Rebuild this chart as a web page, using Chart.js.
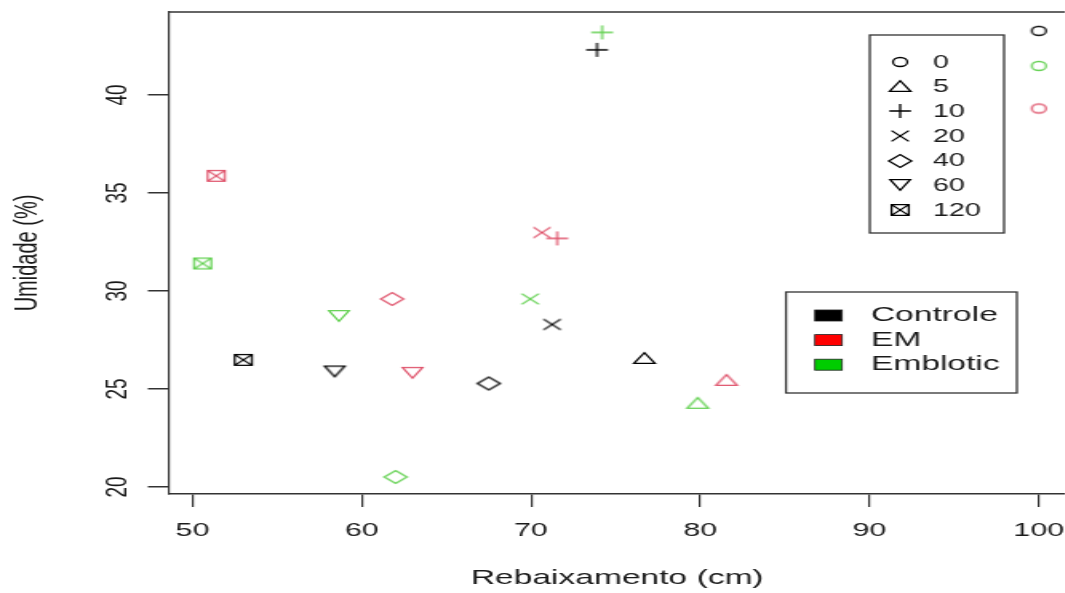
<!DOCTYPE html>
<html>
<head>
<meta charset="utf-8">
<script src="https://cdn.jsdelivr.net/npm/chart.js@4/dist/chart.umd.min.js"></script>
<style>
html,body{margin:0;padding:0;background:#fff;overflow:hidden;width:1065px;height:593px;}
#c{display:block;}
</style>
</head>
<body>
<!-- R-style plot drawn on a narrower bitmap and stretched horizontally, like the reference;
     the plot box runs past the right edge of the window, as in the reference -->
<canvas id="c" width="673" height="593" style="width:1076px;height:593px;"></canvas>
<script>
// ---- data ----
const doses = ['0', '5', '10', '20', '40', '60', '120'];
const shapes = ['circle', 'triangle', 'plus', 'cross', 'diamond', 'down', 'box'];
const groups = ['Controle', 'EM', 'Emblotic'];
const controleX = [100, 76.7, 73.9, 71.25, 67.5, 58.4, 53.0];
const controleY = [43.27, 26.58, 42.30, 28.29, 25.28, 25.89, 26.48];
const emX = [100, 81.55, 71.55, 70.65, 61.8, 63.0, 51.4];
const emY = [39.31, 25.46, 32.68, 32.98, 29.59, 25.82, 35.87];
const emblioticX = [100, 79.85, 74.2, 69.95, 62.0, 58.65, 50.6];
const emblioticY = [41.48, 24.29, 43.19, 29.59, 20.51, 28.72, 31.40];
const xTickStep = 10;
const yTickStep = 5;

// ---- styles ----
const pointColors = ['#000000', '#DF536B', '#61D04F'];
const legendFill = ['#000000', '#FF0000', '#00CD00'];
const FONT = '"Liberation Sans", Arial, Helvetica, sans-serif';
const TXT = '#1a1a1a';

function makeMarker(shape, color) {
  const W = 20, H = 20, cx = W / 2, cy = H / 2;
  const cv = document.createElement('canvas');
  cv.width = W; cv.height = H;
  const g = cv.getContext('2d');
  g.strokeStyle = color; g.lineWidth = 1.3; g.lineJoin = 'miter';
  g.beginPath();
  if (shape === 'circle') {
    g.arc(cx, cy, 4.5, 0, Math.PI * 2);
  } else if (shape === 'triangle') {
    g.moveTo(cx - 6.6, cy + 5.3); g.lineTo(cx + 6.6, cy + 5.3); g.lineTo(cx, cy - 5.3); g.closePath();
  } else if (shape === 'down') {
    g.moveTo(cx - 6.3, cy - 5.3); g.lineTo(cx + 6.3, cy - 5.3); g.lineTo(cx, cy + 5.3); g.closePath();
  } else if (shape === 'plus') {
    g.moveTo(cx - 6.8, cy); g.lineTo(cx + 6.8, cy); g.moveTo(cx, cy - 7); g.lineTo(cx, cy + 7);
  } else if (shape === 'cross') {
    g.moveTo(cx - 5.4, cy - 5.4); g.lineTo(cx + 5.4, cy + 5.4); g.moveTo(cx + 5.4, cy - 5.4); g.lineTo(cx - 5.4, cy + 5.4);
  } else if (shape === 'diamond') {
    g.moveTo(cx - 7.1, cy); g.lineTo(cx, cy - 6.4); g.lineTo(cx + 7.1, cy); g.lineTo(cx, cy + 6.4); g.closePath();
  } else if (shape === 'box') {
    g.rect(cx - 5.4, cy - 5.4, 10.8, 10.8);
    g.moveTo(cx - 5.4, cy - 5.4); g.lineTo(cx + 5.4, cy + 5.4); g.moveTo(cx + 5.4, cy - 5.4); g.lineTo(cx - 5.4, cy + 5.4);
  }
  g.stroke();
  return cv;
}

const markers = pointColors.map(col => shapes.map(s => makeMarker(s, col)));

const xs = [controleX, emX, emblioticX];
const ys = [controleY, emY, emblioticY];
const datasets = groups.map((name, gi) => ({
  label: name,
  data: xs[gi].map((x, i) => ({ x: x, y: ys[gi][i] })),
  pointStyle: markers[gi],
  pointRadius: 6,
  borderColor: pointColors[gi],
  backgroundColor: pointColors[gi]
}));

// ---- custom R-like legends and top border (bitmap coordinates) ----
const rLegends = {
  id: 'rLegends',
  afterDraw(chart) {
    const ctx = chart.ctx;
    const a = chart.chartArea;
    ctx.save();
    ctx.strokeStyle = '#333'; ctx.lineWidth = 1.5;
    ctx.beginPath(); ctx.moveTo(a.left, a.top); ctx.lineTo(a.right, a.top); ctx.stroke();

    // legend 1: dose symbols
    ctx.lineWidth = 1.3;
    ctx.strokeRect(544, 35, 84, 198);
    ctx.fillStyle = TXT;
    ctx.textBaseline = 'middle';
    ctx.textAlign = 'left';
    ctx.font = '18px ' + FONT;
    doses.forEach((d, i) => {
      const y = 61.7 + i * 24.7;
      const m = markers[0][i];
      ctx.drawImage(m, 563 - m.width / 2, Math.round(y) - m.height / 2);
      ctx.fillText(d, 583.5, y + 1);
    });

    // legend 2: groups
    ctx.strokeStyle = '#333'; ctx.lineWidth = 1.3;
    ctx.strokeRect(491.6, 292, 144.4, 101);
    ctx.font = '21px ' + FONT;
    groups.forEach((gname, i) => {
      const y = 315.5 + i * 24.6;
      ctx.fillStyle = legendFill[i];
      ctx.fillRect(509.7, y - 5.5, 17, 11);
      ctx.strokeStyle = '#222'; ctx.lineWidth = 0.8;
      ctx.strokeRect(509.7, y - 5.5, 17, 11);
      ctx.fillStyle = TXT;
      ctx.fillText(gname, 544.7, y);
    });
    ctx.restore();
  }
};

new Chart(document.getElementById('c'), {
  type: 'scatter',
  data: { datasets },
  options: {
    responsive: false,
    animation: false,
    layout: { padding: { top: 12, left: 0, right: 0, bottom: 0 } },
    plugins: { legend: { display: false }, tooltip: { enabled: false } },
    scales: {
      x: {
        type: 'linear',
        min: 48.64,
        max: 101.54,
        ticks: {
          stepSize: xTickStep, includeBounds: false, padding: 0,
          color: TXT, font: { family: FONT, size: 19, lineHeight: 2.47 }, maxRotation: 0, minRotation: 0
        },
        grid: { drawOnChartArea: false, drawTicks: true, tickLength: 13, color: '#333', lineWidth: 1.2 },
        border: { display: true, color: '#333', width: 1.5 },
        title: { display: true, text: 'Rebaixamento (cm)', color: TXT, font: { family: FONT, size: 21 }, padding: { top: 0, bottom: 2.5 } },
        afterFit(s) { s.height = 99; s.paddingLeft = 0; s.paddingRight = 0; }
      },
      y: {
        type: 'linear',
        min: 19.64,
        max: 44.23,
        ticks: {
          stepSize: yTickStep, includeBounds: false, padding: 8, crossAlign: 'center',
          minRotation: 90, maxRotation: 90,
          color: TXT, font: { family: FONT, size: 19 }
        },
        grid: { drawOnChartArea: false, drawTicks: true, tickLength: 13.5, color: '#333', lineWidth: 1.5 },
        border: { display: true, color: '#333', width: 1.2 },
        title: { display: true, text: 'Umidade (%)', color: TXT, font: { family: FONT, size: 20 }, padding: { top: 5.5, bottom: 0 } },
        afterFit(s) { s.width = 106; s.paddingTop = 0; s.paddingBottom = 0; }
      }
    }
  },
  plugins: [rLegends]
});
</script>
</body>
</html>
